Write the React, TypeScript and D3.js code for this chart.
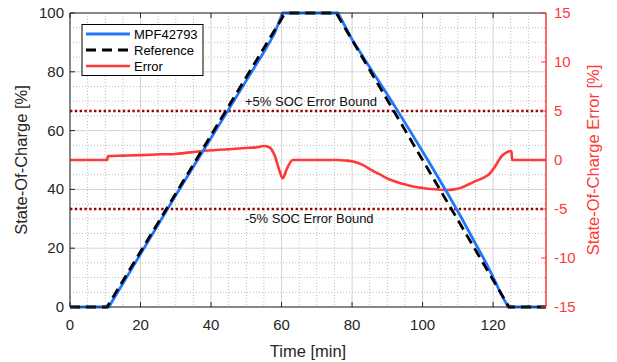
import * as d3 from 'd3';

// time axis ticks [min]
const timeTicks = [0, 20, 40, 60, 80, 100, 120];
const socTicks = [0, 20, 40, 60, 80, 100];
const errTicks = [-15, -10, -5, 0, 5, 10, 15];

// Reference SOC (black dashed)
const refTime = [0, 10.5, 60.5, 62, 75.5, 124.5, 135];
const refSoc = [0, 0, 99, 100, 100, 0, 0];

// MPF42793 SOC (blue)
const mpfTime = [0, 11, 20, 30, 40, 50, 55, 58, 60.3, 76, 80, 85.4, 91, 96.7, 102.4, 107.1, 111, 114.7, 117.5, 119.9, 122.3, 124.3, 135];
const mpfSoc = [0, 0, 18, 38, 57.5, 77, 86.7, 93, 100, 100, 91, 80.8, 70.4, 59.4, 48.1, 38.6, 30.4, 22.2, 16.1, 10.4, 4.3, 0, 0];

// SOC error (red, right axis)
const errTime = [0, 10.5, 10.8, 15, 20, 25.8, 30, 37, 45, 51, 53, 55, 56.5, 58, 59.5, 60.3, 61.5, 63.2, 75.9, 78, 80.6, 83, 85.4, 88, 91, 94, 96.7, 100, 102.4, 105, 107.1, 109, 111, 113, 114.7, 117.5, 119, 119.9, 121, 122.3, 123.7, 124.9, 125.2, 125.4, 135];
const errVal = [0, 0, 0.4, 0.45, 0.5, 0.58, 0.62, 0.9, 1.1, 1.25, 1.3, 1.43, 1.3, 0.5, -1.2, -1.87, -0.9, 0, 0, -0.05, -0.17, -0.5, -1.0, -1.5, -2.04, -2.4, -2.65, -2.85, -2.96, -3.03, -3.06, -3.0, -2.82, -2.5, -2.21, -1.77, -1.4, -1.0, -0.4, 0.34, 0.75, 0.92, 0.9, 0, 0];

const bounds = [5, -5];

const W = 617;
const H = 362;
const m = { left: 70, right: 546, top: 13, bottom: 307 };
const BLUE = '#2176ff';
const RED = '#ff3838';
const DARKRED = '#9e0000';
const TXT = '#262626';
const FONT = 'Arial, "Liberation Sans", sans-serif';

export default function App() {
  const x = d3.scaleLinear().domain([0, 135]).range([m.left, m.right]);
  const y = d3.scaleLinear().domain([0, 100]).range([m.bottom, m.top]);
  const yR = d3.scaleLinear().domain([-15, 15]).range([m.bottom, m.top]);

  const minorX = d3.range(0, 136, 5).filter(v => v % 20 !== 0);
  const minorY = d3.range(0, 101, 5).filter(v => v % 20 !== 0);

  const line = d3.line<[number, number]>().x(d => x(d[0])).y(d => y(d[1]));
  const errLine = d3.line<[number, number]>().x(d => x(d[0])).y(d => yR(d[1])).curve(d3.curveMonotoneX);

  const refPts = refTime.map((t, i) => [t, refSoc[i]] as [number, number]);
  const mpfPts = mpfTime.map((t, i) => [t, mpfSoc[i]] as [number, number]);
  const errPts = errTime.map((t, i) => [t, errVal[i]] as [number, number]);

  return (
    <svg width={W} height={H} style={{ position: 'absolute', left: 0, top: 0, background: '#fff' }} fontFamily={FONT}>
      {/* minor grid */}
      {minorX.map(v => (
        <line key={'mx' + v} x1={x(v)} x2={x(v)} y1={m.top} y2={m.bottom} stroke="#bdbdbd" strokeWidth={1} strokeDasharray="1,2" />
      ))}
      {minorY.map(v => (
        <line key={'my' + v} x1={m.left} x2={m.right} y1={y(v)} y2={y(v)} stroke="#bdbdbd" strokeWidth={1} strokeDasharray="1,2" />
      ))}
      {/* major grid */}
      {timeTicks.map(v => (
        <line key={'gx' + v} x1={x(v)} x2={x(v)} y1={m.top} y2={m.bottom} stroke="#d4d4d4" strokeWidth={1} />
      ))}
      {socTicks.map(v => (
        <line key={'gy' + v} x1={m.left} x2={m.right} y1={y(v)} y2={y(v)} stroke="#d4d4d4" strokeWidth={1} />
      ))}

      {/* error bounds */}
      {bounds.map(b => (
        <line key={'b' + b} x1={m.left} x2={m.right} y1={yR(b)} y2={yR(b)} stroke={DARKRED} strokeWidth={2.6} strokeDasharray="2.4,2.4" />
      ))}
      <text x={245} y={yR(5) - 5} fontSize={13} fill="#111">+5% SOC Error Bound</text>
      <text x={245} y={yR(-5) + 14} fontSize={13} fill="#111">-5% SOC Error Bound</text>

      {/* series */}
      <path d={errLine(errPts) ?? ''} fill="none" stroke={RED} strokeWidth={2.6} strokeLinejoin="round" />
      <path d={line(mpfPts) ?? ''} fill="none" stroke={BLUE} strokeWidth={2.8} strokeLinejoin="round" />
      <path d={line(refPts) ?? ''} fill="none" stroke="#000" strokeWidth={2.8} strokeDasharray="10,6" />

      {/* axes box */}
      <line x1={m.left} x2={m.right} y1={m.top} y2={m.top} stroke={TXT} strokeWidth={1} />
      <line x1={m.left} x2={m.right} y1={m.bottom} y2={m.bottom} stroke={TXT} strokeWidth={1} />
      <line x1={m.left} x2={m.left} y1={m.top} y2={m.bottom} stroke={TXT} strokeWidth={1} />
      <line x1={m.right} x2={m.right} y1={m.top} y2={m.bottom} stroke={RED} strokeWidth={1.5} />

      {/* x ticks */}
      {timeTicks.map(v => (
        <g key={'xt' + v}>
          <line x1={x(v)} x2={x(v)} y1={m.bottom} y2={m.bottom - 5} stroke={TXT} />
          <line x1={x(v)} x2={x(v)} y1={m.top} y2={m.top + 5} stroke={TXT} />
          <text x={x(v)} y={m.bottom + 23} textAnchor="middle" fontSize={15} fill={TXT}>{v}</text>
        </g>
      ))}
      <text x={(m.left + m.right) / 2} y={357} textAnchor="middle" fontSize={16.5} fill={TXT}>Time [min]</text>

      {/* left ticks */}
      {socTicks.map(v => (
        <g key={'yt' + v}>
          <line x1={m.left} x2={m.left + 5} y1={y(v)} y2={y(v)} stroke={TXT} />
          <text x={m.left - 6} y={y(v) + 5} textAnchor="end" fontSize={15} fill={TXT}>{v}</text>
        </g>
      ))}
      <text transform={`translate(27,${(m.top + m.bottom) / 2}) rotate(-90)`} textAnchor="middle" fontSize={16.5} fill={TXT}>State-Of-Charge [%]</text>

      {/* right ticks */}
      {errTicks.map(v => (
        <g key={'rt' + v}>
          <line x1={m.right} x2={m.right - 5} y1={yR(v)} y2={yR(v)} stroke={RED} />
          <text x={m.right + 8} y={yR(v) + 5} fontSize={15} fill={RED}>{v}</text>
        </g>
      ))}
      <text transform={`translate(599,${(m.top + m.bottom) / 2}) rotate(-90)`} textAnchor="middle" fontSize={16.5} fill={RED}>State-Of-Charge Error [%]</text>

      {/* legend */}
      <g>
        <rect x={82} y={24.5} width={121} height={51} fill="#fff" stroke="#000" strokeWidth={1} />
        <line x1={86} x2={130} y1={34} y2={34} stroke={BLUE} strokeWidth={2.8} />
        <line x1={86} x2={130} y1={50} y2={50} stroke="#000" strokeWidth={2.8} strokeDasharray="10,6" />
        <line x1={86} x2={130} y1={66} y2={66} stroke={RED} strokeWidth={2.6} />
        <text x={134} y={38.5} fontSize={13} fill="#000">MPF42793</text>
        <text x={134} y={54.5} fontSize={13} fill="#000">Reference</text>
        <text x={134} y={70.5} fontSize={13} fill="#000">Error</text>
      </g>
    </svg>
  );
}
